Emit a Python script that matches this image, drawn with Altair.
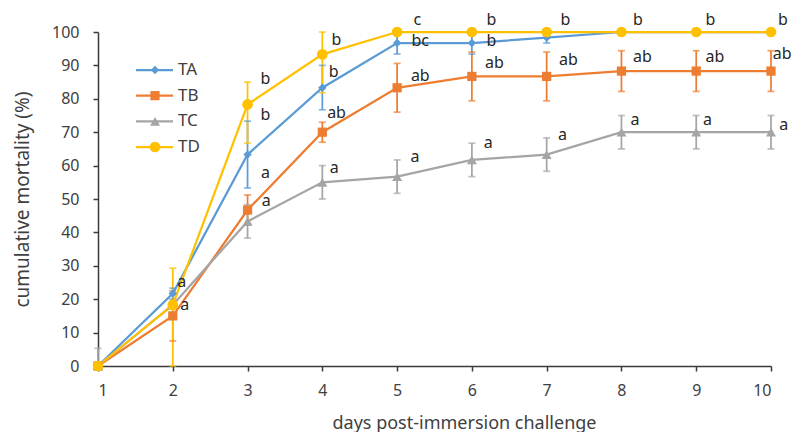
import altair as alt
import pandas as pd

days = [1, 2, 3, 4, 5, 6, 7, 8, 9, 10]
series_names = ["TA", "TB", "TC", "TD"]

TA = [0, 21.7, 63.3, 83.3, 96.7, 96.7, 98.3, 100, 100, 100]
TA_lo = [0, 20.0, 53.3, 76.7, 93.4, 93.4, 96.7, 100, 100, 100]
TA_hi = [0, 23.3, 73.3, 90.0, 100, 100, 100, 100, 100, 100]

TB = [0, 15.0, 46.7, 70.0, 83.3, 86.7, 86.7, 88.3, 88.3, 88.3]
TB_lo = [0, 7.5, 42.2, 67.0, 76.0, 79.4, 79.4, 82.2, 82.2, 82.2]
TB_hi = [0, 22.5, 51.2, 73.0, 90.6, 94.0, 94.0, 94.4, 94.4, 94.4]

TC = [0, 18.3, 43.3, 55.0, 56.7, 61.7, 63.3, 70.0, 70.0, 70.0]
TC_lo = [0, 18.3, 38.3, 50.0, 51.7, 56.7, 58.3, 65.0, 65.0, 65.0]
TC_hi = [5.3, 18.3, 48.3, 60.0, 61.7, 66.7, 68.3, 75.0, 75.0, 75.0]

TD = [0, 18.3, 78.3, 93.3, 100, 100, 100, 100, 100, 100]
TD_lo = [0, 0, 66.7, 81.8, 100, 100, 100, 100, 100, 100]
TD_hi = [0, 29.3, 85.0, 100, 100, 100, 100, 100, 100, 100]

# significance letters and where they sit (day, value)
letters = ["a", "a",
           "b", "b", "a", "a",
           "b", "b", "ab", "a",
           "c", "bc", "ab", "a",
           "b", "b", "ab", "a",
           "b", "ab", "a",
           "b", "ab", "a",
           "b", "ab", "a",
           "b", "ab", "a"]
letter_day = [2.12, 2.16,
              3.24, 3.24, 3.24, 3.25,
              4.19, 4.15, 4.19, 4.16,
              5.27, 5.31, 5.31, 5.24,
              6.26, 6.26, 6.30, 6.22,
              7.25, 7.29, 7.21,
              8.22, 8.28, 8.18,
              9.19, 9.25, 9.15,
              10.16, 10.15, 10.17]
letter_val = [25.1, 18.3,
              85.9, 75.1, 57.8, 49.4,
              97.6, 88.0, 75.7, 59.3,
              103.6, 97.4, 86.8, 62.6,
              103.6, 97.4, 90.8, 66.7,
              103.6, 91.6, 69.2,
              103.6, 92.6, 73.7,
              103.6, 92.6, 73.7,
              103.6, 93.4, 72.2]

colors = ["#5B9BD5", "#ED7D31", "#A5A5A5", "#FFC000"]
shapes = ["diamond", "square", "triangle-up", "circle"]
sizes = [70, 115, 110, 175]

rows = []
for name, vals, lo, hi in zip(series_names, [TA, TB, TC, TD],
                              [TA_lo, TB_lo, TC_lo, TD_lo],
                              [TA_hi, TB_hi, TC_hi, TD_hi]):
    for d, v, l, h in zip(days, vals, lo, hi):
        rows.append({"series": name, "day": d, "value": v, "lo": l, "hi": h})
df = pd.DataFrame(rows)
err = df[df["hi"] > df["lo"]]
lab = pd.DataFrame({"letter": letters, "lday": letter_day, "lval": letter_val})
leg = pd.DataFrame({"series": series_names})

FONT = "Noto Sans"
AX = "#404040"

xscale = alt.Scale(domain=[1, 10], nice=False, zero=False)
yscale = alt.Scale(domain=[0, 100], nice=False)
xaxis = alt.Axis(values=days, title="days post-immersion challenge", grid=False,
                 tickSize=5, labelPadding=11, titlePadding=16, titleX=366,
                 titleAlign="center", titleFontSize=18)
yaxis = alt.Axis(values=list(range(0, 101, 10)), title="cumulative mortality (%)",
                 grid=False, tickSize=5, labelPadding=14, titlePadding=19,
                 titleFontSize=19)

color = alt.Color("series:N", scale=alt.Scale(domain=series_names, range=colors), legend=None)
shape = alt.Shape("series:N", scale=alt.Scale(domain=series_names, range=shapes), legend=None)
size = alt.Size("series:N", scale=alt.Scale(domain=series_names, range=sizes), legend=None)

X = lambda f: alt.X(f, scale=xscale, axis=xaxis)
Y = lambda f: alt.Y(f, scale=yscale, axis=yaxis)

bars = alt.Chart(err).mark_rule(strokeWidth=1.75).encode(
    x=X("day:Q"), y=Y("lo:Q"), y2="hi:Q", color=color)
cap_lo = alt.Chart(err).mark_tick(orient="horizontal", size=7, thickness=1.75).encode(
    x=X("day:Q"), y=Y("lo:Q"), color=color)
cap_hi = alt.Chart(err).mark_tick(orient="horizontal", size=7, thickness=1.75).encode(
    x=X("day:Q"), y=Y("hi:Q"), color=color)
lines = alt.Chart(df).mark_line(strokeWidth=2.25).encode(
    x=X("day:Q"), y=Y("value:Q"), color=color, detail="series:N")
points = alt.Chart(df).mark_point(filled=True, opacity=1).encode(
    x=X("day:Q"), y=Y("value:Q"), color=color, shape=shape, size=size)
texts = alt.Chart(lab).mark_text(align="center", baseline="middle", font=FONT,
                                 fontSize=16, color="#262626").encode(
    x=X("lday:Q"), y=Y("lval:Q"), text="letter:N")

main = alt.layer(bars, cap_lo, cap_hi, lines, points, texts)

ly = alt.Y("series:N", scale=alt.Scale(type="point", domain=series_names,
                                       range=[38, 115], padding=0), axis=None)
leg_rule = alt.Chart(leg).mark_rule(strokeWidth=2.25).encode(
    x=alt.value(38), x2=alt.value(75), y=ly, color=color)
leg_pt = alt.Chart(leg).mark_point(filled=True, opacity=1).encode(
    x=alt.value(57), y=ly, color=color, shape=shape, size=size)
leg_txt = alt.Chart(leg).mark_text(align="left", baseline="middle", font=FONT,
                                   fontSize=17, color=AX).encode(
    x=alt.value(80), y=ly, text="series:N")
legend = alt.layer(leg_rule, leg_pt, leg_txt)

chart = alt.layer(main, legend).resolve_scale(y="independent").properties(
    width=673, height=334,
    autosize=alt.AutoSizeParams(type="none"),
    padding={"left": 90, "top": 24, "right": 22, "bottom": 66},
).configure_view(stroke=None).configure_axis(
    labelFont=FONT, titleFont=FONT, labelFontSize=16,
    labelColor=AX, titleColor=AX, titleFontWeight="normal",
    domainColor="#3a3a3a", tickColor="#3a3a3a", domainWidth=1.5, tickWidth=1.5,
)

chart.save("out.html", embed_options={"renderer": "svg", "actions": False})
